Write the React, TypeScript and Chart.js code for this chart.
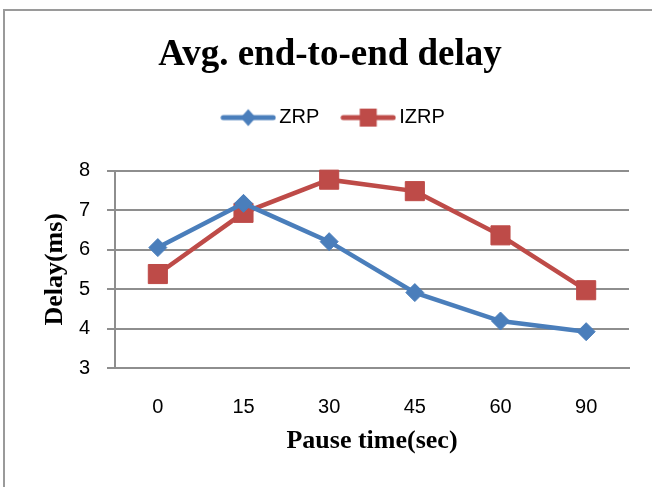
import React, { useEffect, useRef } from "react";
import { Chart, registerables } from "chart.js";

Chart.register(...registerables);

const categories = ["0", "15", "30", "45", "60", "90"];
const zrpValues = [6.05, 7.17, 6.2, 4.91, 4.19, 3.92];
const izrpValues = [5.38, 6.93, 7.77, 7.48, 6.36, 4.97];
const seriesNames = ["ZRP", "IZRP"];
const yMin = 3;
const yMax = 8;

const BLUE = "#4A7EBB";
const RED = "#BE4B48";
const GRID = "#8e8e8e";
const SERIF = "'Liberation Serif', 'Times New Roman', serif";
const SANS = "'Liberation Sans', Arial, sans-serif";

function legendIcon(color: string, shape: "diamond" | "square") {
  const c = document.createElement("canvas");
  c.width = 56;
  c.height = 22;
  const ctx = c.getContext("2d")!;
  ctx.strokeStyle = color;
  ctx.lineWidth = 5;
  ctx.lineCap = "round";
  ctx.beginPath();
  ctx.moveTo(3, 11);
  ctx.lineTo(53, 11);
  ctx.stroke();
  ctx.fillStyle = color;
  if (shape === "diamond") {
    ctx.beginPath();
    ctx.moveTo(28, 2.5);
    ctx.lineTo(35.5, 11);
    ctx.lineTo(28, 19.5);
    ctx.lineTo(20.5, 11);
    ctx.closePath();
    ctx.fill();
  } else {
    ctx.fillRect(19.5, 2, 17, 18);
  }
  return c;
}

export default function App() {
  const ref = useRef<HTMLCanvasElement | null>(null);

  useEffect(() => {
    const canvas = ref.current;
    if (!canvas) return;
    const icons = [legendIcon(BLUE, "diamond"), legendIcon(RED, "square")];

    const spacePlugin = {
      id: "spacePlugin",
      beforeInit(chart: any) {
        const lg = chart.legend;
        if (lg) {
          const orig = lg.fit;
          lg.fit = function () {
            orig.call(this);
            this.height = 91;
          };
        }
      },
      afterLayout(chart: any) {
        const lg = chart.legend;
        if (lg) {
          lg.left += 10;
          lg.right += 10;
        }
        const tb = chart.titleBlock;
        if (tb) {
          tb.left += 4;
          tb.right += 4;
        }
      },
    };

    const chart = new Chart(canvas, {
      type: "line",
      data: {
        labels: categories,
        datasets: [
          {
            label: seriesNames[0],
            data: zrpValues,
            borderColor: BLUE,
            backgroundColor: BLUE,
            borderWidth: 4.5,
            pointStyle: "rectRot",
            pointRadius: 9,
            pointBorderWidth: 1,
            pointBorderColor: BLUE,
            pointBackgroundColor: BLUE,
            tension: 0,
            clip: false as any,
          },
          {
            label: seriesNames[1],
            data: izrpValues,
            borderColor: RED,
            backgroundColor: RED,
            borderWidth: 4.5,
            pointStyle: "rect",
            pointRadius: 13.5,
            pointBorderWidth: 1,
            pointBorderColor: RED,
            pointBackgroundColor: RED,
            tension: 0,
            clip: false as any,
          },
        ],
      },
      options: {
        responsive: false,
        animation: false,
        devicePixelRatio: 1,
        layout: { padding: 0, autoPadding: false },
        plugins: {
          title: {
            display: true,
            text: "Avg. end-to-end delay",
            color: "#000",
            font: { family: SERIF, size: 37, weight: "bold" },
            padding: { top: 32.8, bottom: 2.4 },
          },
          legend: {
            display: true,
            position: "top",
            labels: {
              usePointStyle: true,
              pointStyleWidth: 42,
              padding: 28,
              color: "#000",
              font: { family: SANS, size: 20 },
              generateLabels: (ch: any) => {
                const items = (Chart.defaults.plugins.legend.labels as any).generateLabels(ch);
                items.forEach((it: any, i: number) => {
                  it.pointStyle = icons[i];
                });
                return items;
              },
            },
          },
          tooltip: { enabled: false },
        },
        scales: {
          x: {
            type: "category",
            offset: true,
            grid: { display: false, drawTicks: false },
            border: { display: true, color: GRID, width: 2 },
            ticks: {
              color: "#000",
              font: { family: SANS, size: 20 },
              padding: 27,
              maxRotation: 0,
              autoSkip: false,
            },
            title: {
              display: true,
              text: "Pause time(sec)",
              color: "#000",
              font: { family: SERIF, size: 26, weight: "bold" },
              padding: { top: 0, bottom: 30 },
            },
            afterFit: (s: any) => {
              s.height = 119;
            },
          },
          y: {
            type: "linear",
            position: "left",
            min: yMin,
            max: yMax,
            grid: { color: GRID, lineWidth: 2, drawTicks: true, tickLength: 8 },
            border: { display: true, color: GRID, width: 2 },
            ticks: {
              stepSize: 1,
              color: "#000",
              font: { family: SANS, size: 20 },
              padding: 17,
            },
            title: {
              display: true,
              text: "Delay(ms)",
              color: "#000",
              font: { family: SERIF, size: 26, weight: "bold" },
              padding: { top: 39.4, bottom: 0 },
            },
            afterFit: (s: any) => {
              s.width = 115;
            },
          },
          yRight: {
            type: "linear",
            position: "right",
            display: true,
            grid: { display: false, drawTicks: false },
            border: { display: false },
            ticks: { display: false },
            afterFit: (s: any) => {
              s.width = 23;
            },
          },
        },
      } as any,
      plugins: [spacePlugin],
    });

    return () => chart.destroy();
  }, []);

  return (
    <div
      style={{
        position: "fixed",
        left: 0,
        top: 0,
        width: 652,
        height: 487,
        overflow: "hidden",
        background: "#fff",
      }}
    >
      <div
        style={{
          position: "absolute",
          left: 3,
          top: 9,
          width: 1000,
          height: 1000,
          borderTop: "2px solid #9a9a9a",
          borderLeft: "2px solid #9a9a9a",
        }}
      />
      <canvas
        ref={ref}
        width={652}
        height={487}
        style={{ position: "absolute", left: 0, top: 0, width: 652, height: 487 }}
      />
    </div>
  );
}
